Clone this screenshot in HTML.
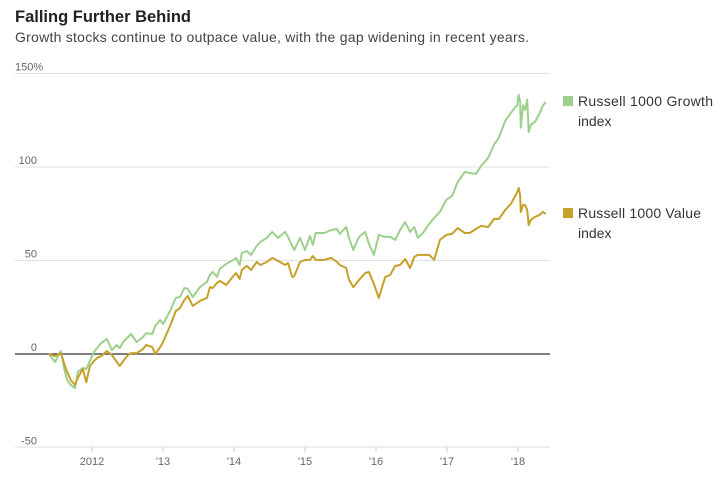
<!DOCTYPE html>
<html><head><meta charset="utf-8"><style>
body{margin:0;background:#fff;width:721px;height:478px;overflow:hidden;font-family:"Liberation Sans",sans-serif}
</style></head><body>
<svg width="721" height="478" style="position:absolute;left:0;top:0">
<text x="15" y="22" font-size="16.5" font-weight="bold" fill="#222">Falling Further Behind</text>
<text x="15" y="42" font-size="14" fill="#444" textLength="514" lengthAdjust="spacing">Growth stocks continue to outpace value, with the gap widening in recent years.</text>
<g id="grid"></g><g id="xaxis"></g><g id="lines"></g>
<g>
<rect x="563" y="96" width="10" height="10" fill="#9dd08d"/>
<text x="578" y="106" font-size="14" fill="#333" textLength="135" lengthAdjust="spacing">Russell 1000 Growth</text>
<text x="578" y="126" font-size="14" fill="#333">index</text>
<rect x="563" y="208" width="10" height="10" fill="#c6a12a"/>
<text x="578" y="218" font-size="14" fill="#333" textLength="123" lengthAdjust="spacing">Russell 1000 Value</text>
<text x="578" y="238" font-size="14" fill="#333">index</text>
</g>
</svg>
<script>
const dates=[2011.39,2011.48,2011.56,2011.62,2011.65,2011.70,2011.76,2011.80,2011.87,2011.92,2011.97,2012.03,2012.07,2012.13,2012.21,2012.28,2012.35,2012.39,2012.45,2012.51,2012.55,2012.63,2012.72,2012.76,2012.85,2012.89,2012.96,2013.00,2013.10,2013.18,2013.24,2013.30,2013.35,2013.42,2013.52,2013.62,2013.66,2013.70,2013.76,2013.80,2013.89,2013.99,2014.03,2014.08,2014.11,2014.18,2014.24,2014.32,2014.37,2014.46,2014.54,2014.62,2014.72,2014.76,2014.82,2014.85,2014.93,2015.00,2015.07,2015.11,2015.15,2015.27,2015.37,2015.45,2015.49,2015.58,2015.62,2015.68,2015.76,2015.85,2015.90,2015.97,2016.04,2016.13,2016.20,2016.27,2016.34,2016.41,2016.48,2016.54,2016.59,2016.66,2016.75,2016.82,2016.90,2016.99,2017.07,2017.15,2017.25,2017.32,2017.41,2017.48,2017.58,2017.66,2017.73,2017.82,2017.90,2017.96,2017.99,2018.01,2018.03,2018.04,2018.07,2018.10,2018.13,2018.15,2018.18,2018.24,2018.30,2018.35,2018.39];
const growth=[0,-4.3,1.6,-9.6,-13.9,-16.6,-18.2,-9.6,-7.5,-8.0,-3.7,1.1,3.2,5.9,8.0,2.1,4.8,3.2,7.0,9.1,10.7,6.4,9.1,11.2,10.7,15.0,18.2,16.0,23.0,30.0,30.5,35.3,34.8,30.5,35.8,38.5,42.3,43.9,41.2,45.5,48.2,50.3,51.4,47.6,54.0,55.1,53.0,57.8,59.9,62.1,65.3,62.1,65.3,62.6,57.8,55.6,62.1,55.6,63.1,58.3,64.7,64.7,66.3,66.9,64.2,67.9,62.1,55.6,62.6,65.3,58.9,53.0,63.7,62.6,62.6,61.0,66.3,70.6,65.3,67.9,62.1,64.7,69.6,72.8,76.0,82.4,84.5,92.0,97.4,96.8,96.3,100.6,104.9,111.8,115.6,124.7,128.9,132.1,133,138.6,135,121,133,130.5,136,118.7,122.5,124.1,128.4,132.7,134.8];
const value=[0,-1.1,0.5,-6.4,-9.6,-13.9,-16.6,-12.8,-8.0,-15.0,-6.4,-3.7,-2.1,-1.1,1.6,-0.5,-4.3,-6.4,-3.2,-0.5,0.5,0.5,2.7,4.8,3.7,0,3.7,6.4,15.0,23.0,24.6,28.9,31.0,25.7,28.4,30.0,35.8,35.3,38.0,39.1,36.9,41.7,43.3,40.1,44.9,47.1,44.9,49.2,47.6,49.2,51.4,49.8,47.6,48.7,41.2,41.7,49.2,50.3,50.3,52.4,50.3,50.3,51.4,49.2,47.6,46.0,39.6,35.8,39.6,43.3,43.9,37.5,30.0,41.2,42.3,47.1,47.6,50.8,46.0,51.9,53.0,53.0,53.0,50.3,61.0,63.7,64.2,67.4,64.7,64.7,66.9,68.5,67.9,72.2,72.2,77.0,80.3,84.5,86.7,88.8,85.1,76.0,79.7,79.7,77.0,69.0,71.7,73.3,74.3,76.0,74.9];
const yTicks=[150,100,50,0,-50];
const yTickLabels=["150%","100","50","0","-50"];
const xTicks=[2012,2013,2014,2015,2016,2017,2018];
const xTickLabels=["2012","'13","'14","'15","'16","'17","'18"];
const NS="http://www.w3.org/2000/svg";
const X=t=>92+(t-2012)*71;
const Y=v=>354-v*93.5/50;
function mk(tag,attrs,parent,txt){const e=document.createElementNS(NS,tag);for(const k in attrs)e.setAttribute(k,attrs[k]);if(txt!==undefined)e.textContent=txt;parent.appendChild(e);return e;}
const grid=document.getElementById('grid'),xa=document.getElementById('xaxis'),lines=document.getElementById('lines');
yTicks.forEach((v,i)=>{
  if(v!==-50){const l=mk('line',{x1:15,x2:550,y1:Y(v),y2:Y(v),stroke:v===0?'#333':'#e2e2e2','stroke-width':v===0?1.2:1},grid);
  
  }
  const t=mk('text',{x:v===150?15:37,y:Y(v)-3,'font-size':11,fill:'#666','text-anchor':v===150?'start':'end'},grid,yTickLabels[i]);
  
  
});
const ax=mk('line',{x1:15,x2:550,y1:447,y2:447,stroke:'#ddd','stroke-width':1},xa);


xTicks.forEach((t,i)=>{
  const tk=mk('line',{x1:X(t),x2:X(t),y1:447,y2:452,stroke:'#ccc'},xa);
  
  
  const lb=mk('text',{x:X(t),y:465,'font-size':11,fill:'#666','text-anchor':'middle'},xa,xTickLabels[i]);
  
  
});
function path(vals){return vals.map((v,i)=>(i?'L':'M')+X(dates[i]).toFixed(1)+','+Y(v).toFixed(1)).join('');}
const gp=mk('path',{d:path(growth),fill:'none',stroke:'#9dd08d','stroke-width':2,'stroke-linejoin':'round'},lines);


const vp=mk('path',{d:path(value),fill:'none',stroke:'#c6a12a','stroke-width':2,'stroke-linejoin':'round'},lines);


</script>
</body></html>
